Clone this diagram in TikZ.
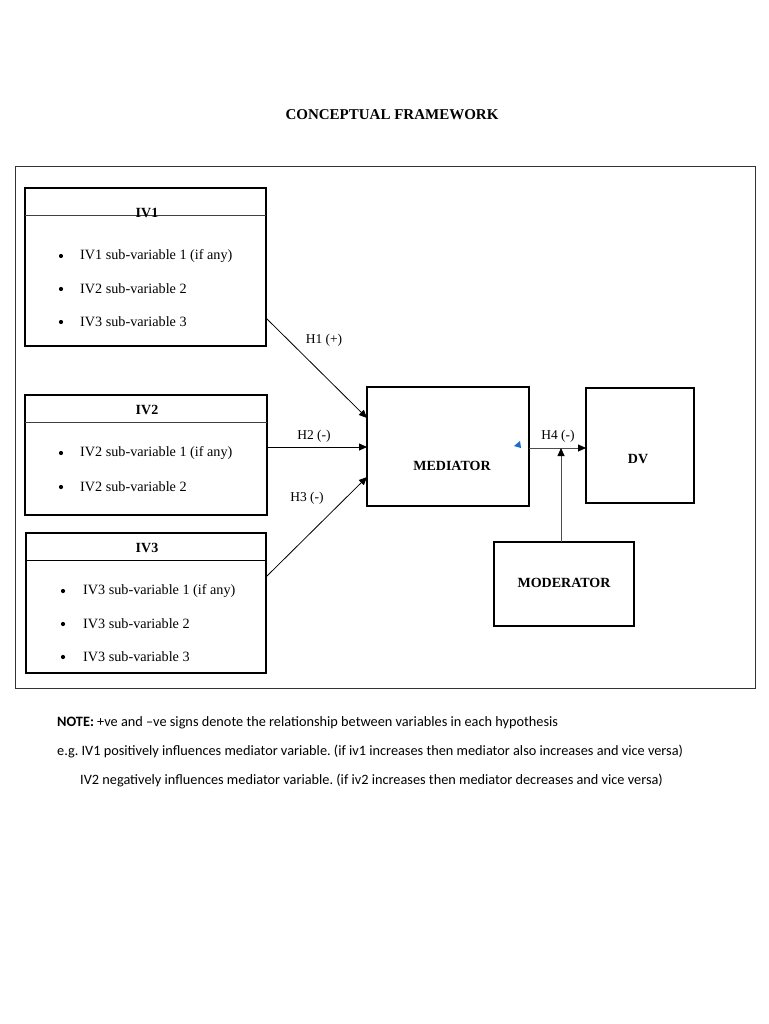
\documentclass[tikz,border=0pt]{standalone}
\usepackage{fontspec}
\setmainfont{Liberation Serif}
\newfontfamily\notefont{Carlito}
\usetikzlibrary{arrows.meta}
\frenchspacing
\begin{document}
\begin{tikzpicture}[x=1pt,y=-1pt,
  box/.style={draw=black,line width=1.3pt},
  frame/.style={draw=black!80,line width=0.9pt},
  btxt/.style={font=\fontsize{14}{16}\selectfont\bfseries,inner sep=0pt},
  txt/.style={font=\fontsize{14.2}{16}\selectfont,inner sep=0pt,anchor=west},
  dot/.style={circle,fill=black,inner sep=0pt,minimum size=4.2pt},
  arr/.style={draw=black,line width=0.8pt,-{Triangle[length=8pt,width=7pt,color=black]}},
  hlab/.style={font=\fontsize{13.5}{15}\selectfont,inner sep=0pt},
  note/.style={font=\notefont\fontsize{14.3}{16}\selectfont,inner sep=0pt,anchor=west}]
\useasboundingbox[fill=white] (0,0) rectangle (768,1024);
\node[btxt,font=\fontsize{15}{17}\selectfont\bfseries] (title) at (392,115) {CONCEPTUAL FRAMEWORK};
\draw[frame] (15,166) rectangle (755,688);
% IV1
\draw[box,line width=1.6pt] (25,188) rectangle (266,346);
\coordinate (iv1a) at (25,216); \coordinate (iv1b) at (266,216);
\draw[line width=1pt,black!75] (iv1a) -- (iv1b);
\node[btxt] (iv1) at (147,213) {IV1};
\node[dot] (d11) at (61,256) {}; \node[txt] (t11) at (80,256) {IV1 sub-variable 1 (if any)};
\node[dot] (d12) at (61,289) {}; \node[txt] (t12) at (80,289) {IV2 sub-variable 2};
\node[dot] (d13) at (61,322) {}; \node[txt] (t13) at (80,322) {IV3 sub-variable 3};
\coordinate (iv1out) at (266,318);
% IV2
\draw[box] (25,395) rectangle (267,515);
\draw[line width=1.8pt] (25,395) -- (267,395);
\coordinate (iv2a) at (25,422); \coordinate (iv2b) at (267,422);
\draw[line width=1pt,black!75] (iv2a) -- (iv2b);
\node[btxt] (iv2) at (147,410) {IV2};
\node[dot] (d21) at (61,453) {}; \node[txt] (t21) at (80,453) {IV2 sub-variable 1 (if any)};
\node[dot] (d22) at (61,487) {}; \node[txt] (t22) at (80,487) {IV2 sub-variable 2};
\coordinate (iv2out) at (267,447);
% IV3
\draw[box,line width=1.1pt] (26,533) rectangle (266,673);
\coordinate (iv3a) at (26,560); \coordinate (iv3b) at (266,560);
\draw[line width=1pt] (iv3a) -- (iv3b);
\node[btxt] (iv3) at (147,548) {IV3};
\node[dot] (d31) at (63,591) {}; \node[txt] (t31) at (83,591) {IV3 sub-variable 1 (if any)};
\node[dot] (d32) at (63,624) {}; \node[txt] (t32) at (83,624) {IV3 sub-variable 2};
\node[dot] (d33) at (63,657) {}; \node[txt] (t33) at (83,657) {IV3 sub-variable 3};
\coordinate (iv3out) at (267,576);
% Mediator, DV, Moderator
\draw[box,line width=1.1pt] (367,387) rectangle (529,506);
\node[btxt] (med) at (452,466) {MEDIATOR};
\draw[box,line width=1.1pt] (586,388) rectangle (694,503);
\node[btxt] (dv) at (638,459) {DV};
\draw[box,line width=1.1pt] (494,542) rectangle (634,626);
\node[btxt] (mod) at (564,583) {MODERATOR};
\coordinate (medin1) at (367,418);
\coordinate (medin2) at (367,447);
\coordinate (medin3) at (367,477);
\coordinate (medout) at (529,448);
\coordinate (dvin) at (586,448);
\coordinate (modtop) at (561,542);
\coordinate (h4pt) at (561,448);
% arrows
\draw[arr] (iv1out) -- (medin1);
\draw[arr] (iv2out) -- (medin2);
\draw[arr] (iv3out) -- (medin3);
\draw[arr,draw=black!70] (medout) -- (dvin);
\draw[arr,draw=black!70] (modtop) -- (h4pt);
\node[hlab] (h1) at (324,340) {H1 (+)};
\node[hlab] (h2) at (314,436) {H2 (-)};
\node[hlab] (h3) at (307,498) {H3 (-)};
\node[hlab] (h4) at (558,436) {H4 (-)};
% small blue mark
\fill[blue!55!cyan!80!black!90] (514,446) -- (520,441) -- (521,448) -- cycle;
% note
\node[note] (n1) at (57,723) {\textbf{NOTE:} +ve and –ve signs denote the relationship between variables in each hypothesis};
\node[note] (n2) at (57,751) {e.g. IV1 positively influences mediator variable. (if iv1 increases then mediator also increases and vice versa)};
\node[note] (n3) at (80,780) {IV2 negatively influences mediator variable. (if iv2 increases then mediator decreases and vice versa)};
\end{tikzpicture}
\end{document}
